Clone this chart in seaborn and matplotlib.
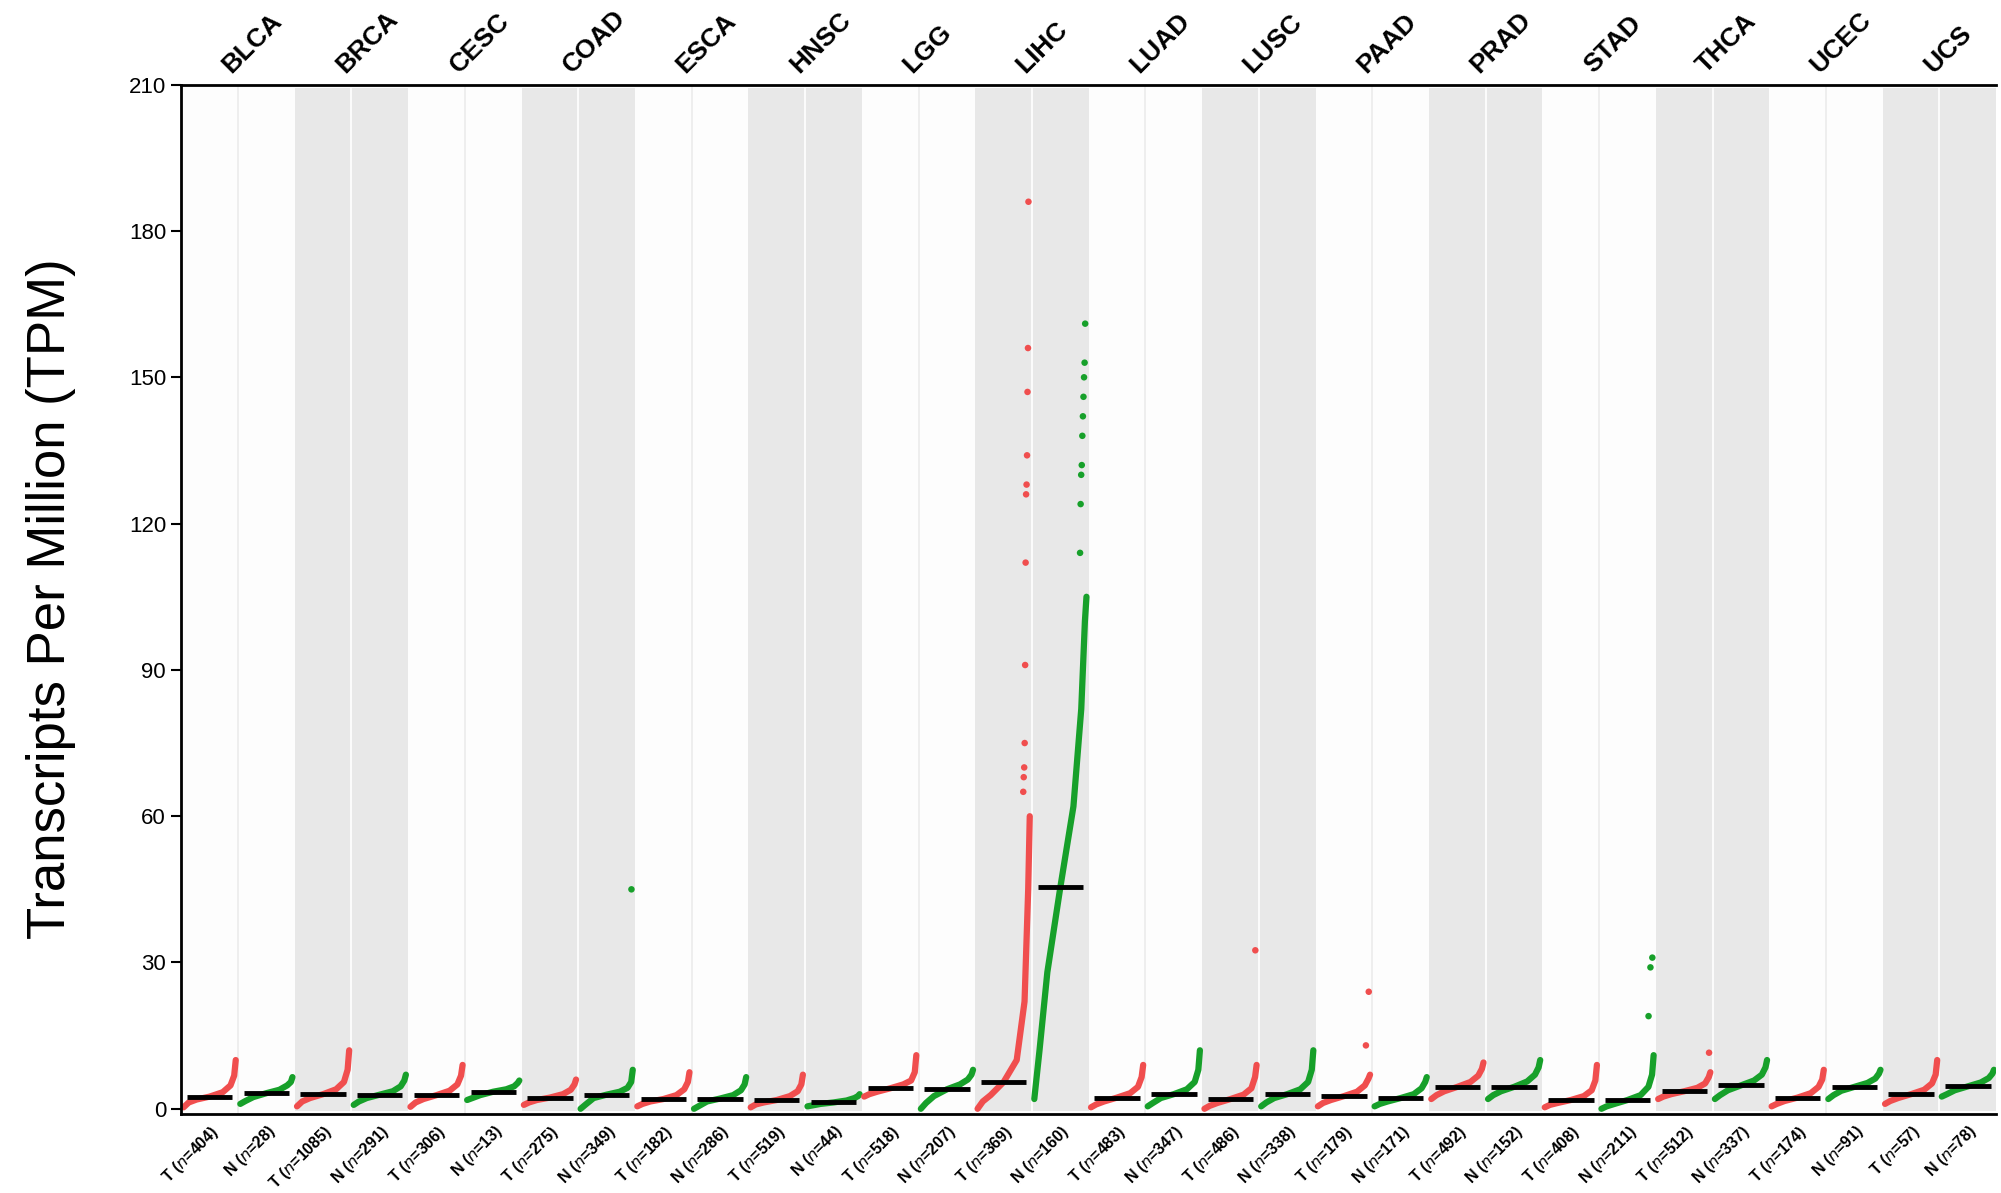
import numpy as np
import pandas as pd
import matplotlib
matplotlib.use("Agg")
import matplotlib.pyplot as plt
import seaborn as sns

sns.set_theme(style="white")
plt.rcParams['font.family'] = ['Liberation Sans', 'DejaVu Sans']
plt.rcParams['text.color'] = 'black'
plt.rcParams['axes.labelcolor'] = 'black'
plt.rcParams['xtick.color'] = 'black'
plt.rcParams['ytick.color'] = 'black'

cancers = ["BLCA","BRCA","CESC","COAD","ESCA","HNSC","LGG","LIHC",
           "LUAD","LUSC","PAAD","PRAD","STAD","THCA","UCEC","UCS"]
n_tumor = [404,1085,306,275,182,519,518,369,483,486,179,492,408,512,174,57]
n_normal = [28,291,13,349,286,44,207,160,347,338,171,152,211,337,91,78]

# rank fractions of the read quantile knots
knot_frac = [0, 0.1, 0.25, 0.5, 0.75, 0.9, 0.97, 1.0]

tumor_knots = [
    [0.3,1.3,1.9,2.5,3.4,4.8,6.8,10],
    [0.5,1.5,2.2,3.0,4.0,5.5,8,12],
    [0.4,1.3,2.0,2.8,3.7,5.0,6.8,9],
    [0.8,1.3,1.8,2.3,3.0,3.9,5,6],
    [0.5,1.0,1.5,2.0,2.8,4.0,5.5,7.5],
    [0.3,0.9,1.3,1.8,2.6,3.6,5.0,7],
    [2.5,3.0,3.5,4.2,5.0,5.8,7.5,11],
    [0,1.5,2.8,5.5,10,22,45,60],
    [0.3,0.9,1.5,2.3,3.2,4.5,6.5,9],
    [0,0.6,1.2,2.0,2.9,4.2,6.5,9],
    [0.5,1.2,1.8,2.6,3.5,4.8,6.2,7],
    [2,2.8,3.6,4.5,5.5,6.8,8.2,9.5],
    [0.3,0.8,1.2,1.8,2.6,3.8,5.8,9],
    [2,2.5,3.0,3.6,4.3,5.2,6.5,7.5],
    [0.5,1.0,1.6,2.3,3.2,4.5,6,8],
    [1,1.6,2.2,3.0,3.9,5.2,7,10],
]
normal_knots = [
    [1,1.6,2.4,3.2,3.9,4.8,5.5,6.5],
    [0.8,1.5,2.2,2.9,3.6,4.6,5.8,7],
    [1.8,2.2,2.8,3.5,4.0,4.6,5.3,5.8],
    [0,0.9,2.2,2.9,3.5,4.3,5.5,8],
    [0,0.6,1.5,2.1,2.8,3.8,5.0,6.5],
    [0.5,0.7,1.0,1.3,1.7,2.2,2.6,3],
    [0,1.2,2.6,4.0,5.0,6.0,7.0,8],
    [2,12,28,45.5,62,82,100,105],
    [0.5,1.2,2.2,3.0,4.0,5.5,8,12],
    [0.5,1.3,2.2,3.0,4.0,5.5,8,12],
    [0.5,1.0,1.5,2.2,3.0,4.2,5.5,6.5],
    [2,2.8,3.6,4.5,5.6,7,8.5,10],
    [0,0.5,1.0,1.8,2.8,4.5,7,11],
    [2,2.8,3.8,4.8,5.8,7,8.5,10],
    [2,2.8,3.7,4.5,5.3,6.2,7.2,8],
    [2.5,3.0,3.8,4.6,5.4,6.3,7.2,8],
]
tumor_outliers = {7: [65,68,70,75,91,112,126,128,134,147,156,186], 9: [32.5],
                  10: [13,24], 13: [11.5]}
normal_outliers = {3: [45], 7: [114,124,130,132,138,142,146,150,153,161],
                   12: [19,29,31]}

RED = "#f04e4e"
GREEN = "#17a02a"

fig = plt.figure(figsize=(20.01, 11.93), dpi=100)
ax = fig.add_axes([0.0906, 0.0665, 0.907, 0.8625])
ax.set_xlim(-0.5, 31.5)
ax.set_ylim(-1, 210)
ax.set_facecolor("#fdfdfd")

for c in range(len(cancers)):
    x0 = 2 * c - 0.5
    if c % 2 == 1:
        ax.axvspan(x0, x0 + 2, ymin=0.003, ymax=0.997, color="#e8e8e8", lw=0, zorder=0)
        ax.axvline(x0 + 1, color="#ffffff", lw=1.2, zorder=0.5)
    else:
        ax.axvline(x0 + 1, color="#ebebeb", lw=1.2, zorder=0.5)

half = 0.46
for c in range(len(cancers)):
    for j, (knots, outl, col) in enumerate([(tumor_knots[c], tumor_outliers, RED),
                                           (normal_knots[c], normal_outliers, GREEN)]):
        xc = 2 * c + j
        xs = [xc - half + 2 * half * f for f in knot_frac]
        sns.lineplot(x=xs, y=knots, ax=ax, color=col, lw=4.5, sort=False,
                     solid_capstyle="round", zorder=2)
        if c in outl:
            vals = outl[c]
            ox = [xc + half * 0.95 - 0.1 * k / max(len(vals), 1) for k in range(len(vals))][::-1]
            sns.scatterplot(x=ox, y=vals, ax=ax, color=col, s=22, edgecolor="none", zorder=3)
        med = knots[3]
        ax.plot([xc - 0.4, xc + 0.4], [med, med], color="black", lw=3.5, zorder=4,
                solid_capstyle="butt")

ax.set_yticks(range(0, 211, 30))
ax.tick_params(axis="y", labelsize=16, length=7, width=1.5, left=True, direction="out", pad=4)
ax.set_ylabel("Transcripts Per Million (TPM)", fontsize=38, labelpad=38)

xticks = list(range(32))
labels = []
for c in range(len(cancers)):
    labels.append(r"T ($\it{n}$=%d)" % n_tumor[c])
    labels.append(r"N ($\it{n}$=%d)" % n_normal[c])
ax.set_xticks(xticks)
ax.set_xticklabels(labels, rotation=45, ha="right", rotation_mode="anchor",
                   fontsize=11.5, fontweight="bold")
ax.tick_params(axis="x", length=0, pad=6)

for c, name in enumerate(cancers):
    ax.text(2 * c + 0.45, 211.5, name, rotation=45, ha="left", va="bottom",
            rotation_mode="anchor", fontsize=19, fontweight="bold",
            transform=ax.transData, clip_on=False)

for s in ["left", "bottom", "top"]:
    ax.spines[s].set_visible(True)
    ax.spines[s].set_color("black")
    ax.spines[s].set_linewidth(2)
ax.spines["right"].set_visible(False)

fig.savefig("out.png", dpi=100)
